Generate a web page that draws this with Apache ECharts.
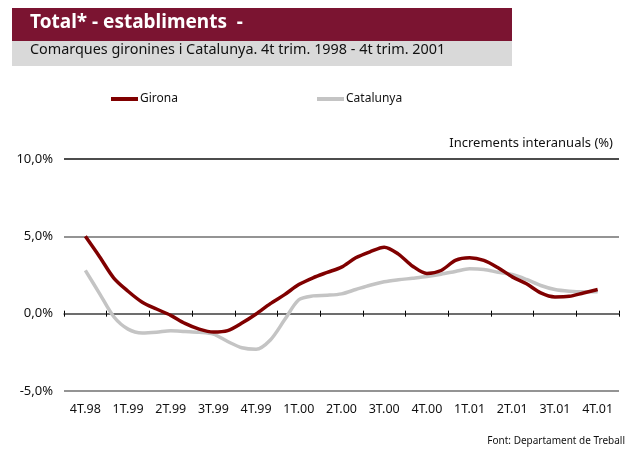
<!DOCTYPE html>
<html><head><meta charset="utf-8">
<script src="https://cdn.jsdelivr.net/npm/echarts@6/dist/echarts.min.js"></script>
<style>html,body{margin:0;padding:0;background:#fff}#c{width:634px;height:451px}</style>
</head><body><div id="c"></div>
<script>
var quarters = ['4T.98','1T.99','2T.99','3T.99','4T.99','1T.00','2T.00','3T.00','4T.00','1T.01','2T.01','3T.01','4T.01'];
var yTicks = [-5, 0, 5, 10];
// monthly year-on-year increments (%), from middle of 4T.98 to middle of 4T.01
var girona = [5.0,3.68,2.3,1.45,0.74,0.30,-0.11,-0.63,-1.0,-1.19,-1.1,-0.61,-0.02,0.65,1.23,1.88,2.32,2.67,3.01,3.61,4.0,4.3,3.85,3.07,2.6,2.79,3.44,3.61,3.44,2.97,2.38,1.93,1.34,1.08,1.12,1.34,1.56];
var catalunya = [2.8,1.3,-0.2,-1.0,-1.25,-1.2,-1.1,-1.15,-1.2,-1.32,-1.8,-2.2,-2.3,-1.7,-0.4,0.9,1.15,1.19,1.28,1.56,1.84,2.06,2.19,2.29,2.4,2.55,2.73,2.9,2.86,2.68,2.53,2.21,1.82,1.56,1.45,1.41,1.41];

var months = [];
for (var i = 0; i < quarters.length * 3; i++) months.push('m' + i);
function pad(a){ return [null].concat(a, [null]); }

var FONT = 'Noto Sans';
var GT = 159, GB = 60, H = 451;
var ymin = yTicks[0], ymax = yTicks[yTicks.length-1];
var zeroY = GT + (H - GT - GB) * (ymax - 0) / (ymax - ymin);

var chart = echarts.init(document.getElementById('c'));
chart.setOption({
  animation: false,
  textStyle: {fontFamily: FONT},
  graphic: [
    {type:'rect', shape:{x:12,y:8,width:500,height:33}, style:{fill:'#7b1431'}},
    {type:'rect', shape:{x:12,y:41,width:500,height:25}, style:{fill:'#d9d9d9'}},
    {type:'text', left:30, top:13, style:{text:'Total* - establiments  -', fill:'#fff', font:'bold 19px "'+FONT+'"'}},
    {type:'text', left:30, top:43, style:{text:'Comarques gironines i Catalunya. 4t trim. 1998 - 4t trim. 2001', fill:'#111', font:'14.4px "'+FONT+'"'}},
    {type:'text', right:21, top:137, style:{text:'Increments interanuals (%)', fill:'#111', font:'13px "'+FONT+'"'}},
    {type:'text', right:9, top:436, style:{text:'Font: Departament de Treball', fill:'#111', font:'10px "'+FONT+'"'}}
  ],
  legend: [
    {data:['Girona'], left:111, top:93, padding:0, icon:'rect', itemWidth:27, itemHeight:4, itemGap:0, textStyle:{fontSize:12, color:'#111', padding:[0,0,0,-3]}},
    {data:['Catalunya'], left:317, top:93, padding:0, icon:'rect', itemWidth:27, itemHeight:4, itemGap:0, textStyle:{fontSize:12, color:'#111', padding:[0,0,0,-3]}}
  ],
  grid: [
    {left:64, right:15, top:GT, bottom:GB, containLabel:false},
    {left:64, right:15, top:GT, bottom:H - zeroY, containLabel:false}
  ],
  xAxis: [
    {type:'category', gridIndex:0, data:quarters, position:'bottom', boundaryGap:true,
     axisLine:{show:false, onZero:false}, axisTick:{show:false},
     axisLabel:{interval:0, fontSize:12.5, color:'#111', margin:12}},
    {type:'category', gridIndex:0, data:months, position:'bottom', boundaryGap:true, show:false,
     axisLine:{onZero:false}},
    {type:'category', gridIndex:1, data:quarters, position:'bottom', boundaryGap:true,
     axisLine:{show:true, onZero:false, lineStyle:{color:'#606060', width:1.5}},
     axisTick:{show:true, length:3, inside:false, lineStyle:{color:'#000'}},
     axisLabel:{show:false}},
    {type:'category', gridIndex:1, data:quarters, position:'bottom', boundaryGap:true,
     axisLine:{show:false, onZero:false},
     axisTick:{show:true, length:3, inside:true, lineStyle:{color:'#000'}},
     axisLabel:{show:false}}
  ],
  yAxis: [
    {type:'value', gridIndex:0, min:ymin, max:ymax, interval:5,
     axisLine:{show:false}, axisTick:{show:false},
     axisLabel:{fontSize:13, color:'#111', margin:11, formatter:function(v){return v.toFixed(1).replace('.',',')+'%';}},
     splitLine:{show:true, lineStyle:{color:['#707070','#707070','#707070','#111'], width:1.5}}},
    {type:'value', gridIndex:1, min:0, max:1, show:false}
  ],
  series: [
    {name:'Catalunya', type:'line', xAxisIndex:1, yAxisIndex:0, data:pad(catalunya), smooth:0.3, symbol:'none',
     lineStyle:{color:'#c4c4c4', width:3.5}, itemStyle:{color:'#c4c4c4'}, z:3},
    {name:'Girona', type:'line', xAxisIndex:1, yAxisIndex:0, data:pad(girona), smooth:0.3, symbol:'none',
     lineStyle:{color:'#800000', width:3.5}, itemStyle:{color:'#800000'}, z:4}
  ]
});
</script></body></html>
